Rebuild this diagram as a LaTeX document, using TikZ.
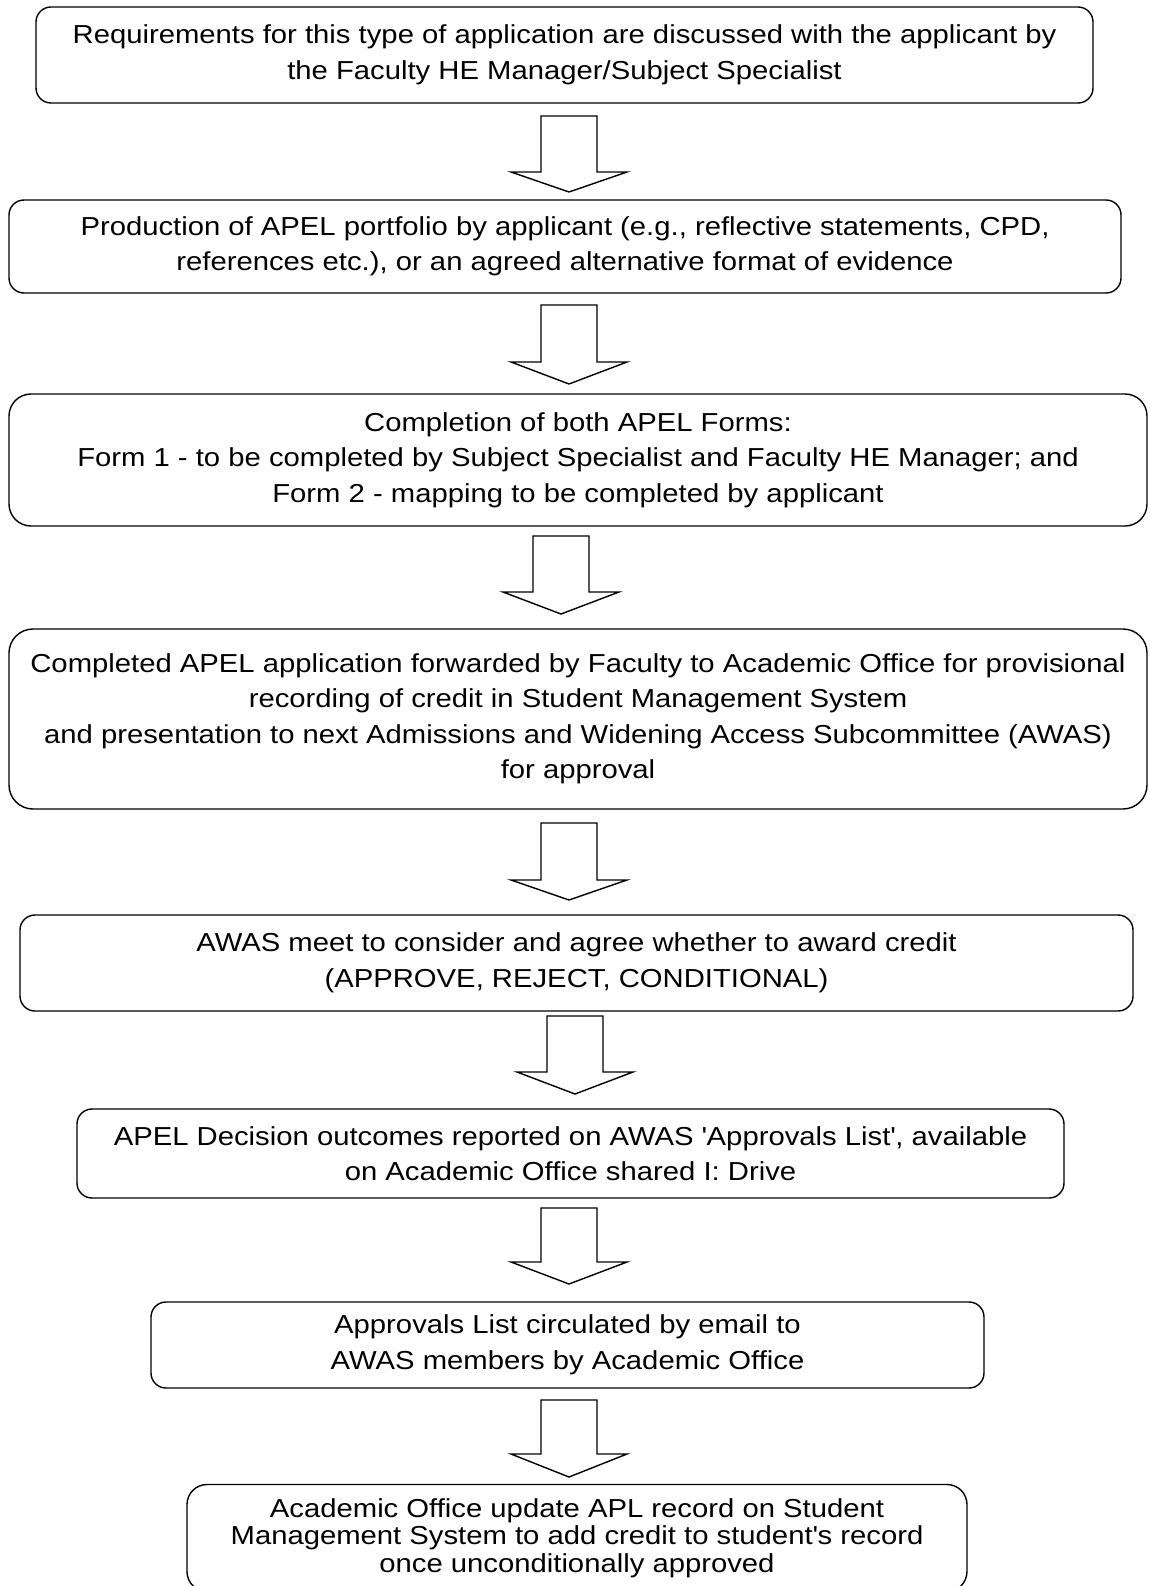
\documentclass[tikz,border=0pt]{standalone}
\usepackage{fontspec}
\setmainfont[FakeStretch=1.125]{Liberation Sans}
\usetikzlibrary{calc}

\tikzset{
  stepbox/.style={draw, line width=1.4pt, rounded corners=15pt, align=center,
    inner sep=0pt, font=\fontsize{26}{35.5}\selectfont},
  blockarrow/.style={draw, line width=1.4pt, fill=white, line join=miter}
}

\begin{document}
\begin{tikzpicture}[x=1pt,y=-1pt]
\useasboundingbox (0,0) rectangle (1150,1586);
% flow boxes
\node[stepbox, minimum width=1057pt, minimum height=96pt] (req) at (564.5,55)
  {Requirements for this type of application are discussed with the applicant by\\
   the Faculty HE Manager/Subject Specialist};
\node[stepbox, minimum width=1112pt, minimum height=93pt] (portfolio) at (565,246.5)
  {Production of APEL portfolio by applicant (e.g., reflective statements, CPD,\\
   references etc.), or an agreed alternative format of evidence};
\node[stepbox, rounded corners=22pt, minimum width=1138pt, minimum height=132pt] (forms) at (578,460)
  {Completion of both APEL Forms:\\
   Form 1 - to be completed by Subject Specialist and Faculty HE Manager; and\\
   Form 2 - mapping to be completed by applicant};
\node[stepbox, rounded corners=24pt, minimum width=1138pt, minimum height=180pt] (forward) at (578,719)
  {Completed APEL application forwarded by Faculty to Academic Office for provisional\\
   recording of credit in Student Management System\\
   and presentation to next Admissions and Widening Access Subcommittee (AWAS)\\
   for approval};
\node[stepbox, minimum width=1113pt, minimum height=96pt] (meet) at (576.5,963)
  {AWAS meet to consider and agree whether to award credit\\
   (APPROVE, REJECT, CONDITIONAL)};
\node[stepbox, minimum width=987pt, minimum height=89pt] (outcome) at (570.5,1153.5)
  {APEL Decision outcomes reported on AWAS \textquotesingle Approvals List\textquotesingle, available\\
   on Academic Office shared I: Drive};
\node[stepbox, minimum width=833pt, minimum height=86pt] (circulate) at (567.5,1345)
  {Approvals List circulated by email to\\
   AWAS members by Academic Office};
\node[stepbox, rounded corners=20pt, minimum width=780pt, minimum height=107pt,
  font=\fontsize{26}{27.5}\selectfont] (update) at (577,1538)
  {Academic Office update APL record on Student\\
   Management System to add credit to student\textquotesingle s record\\
   once unconditionally approved};
% block arrows between the boxes
\foreach \x/\t/\h/\b in {569/116/172/192, 569/305/362/384, 561/536/592/614,
    569/823/880/900, 575/1016/1072/1094, 569/1208/1262/1284, 569/1400/1454/1477}
  \draw[blockarrow] (\x-28,\t) -- (\x+28,\t) -- (\x+28,\h) -- (\x+58,\h)
    -- (\x,\b) -- (\x-58,\h) -- (\x-28,\h) -- cycle;
\end{tikzpicture}
\end{document}
